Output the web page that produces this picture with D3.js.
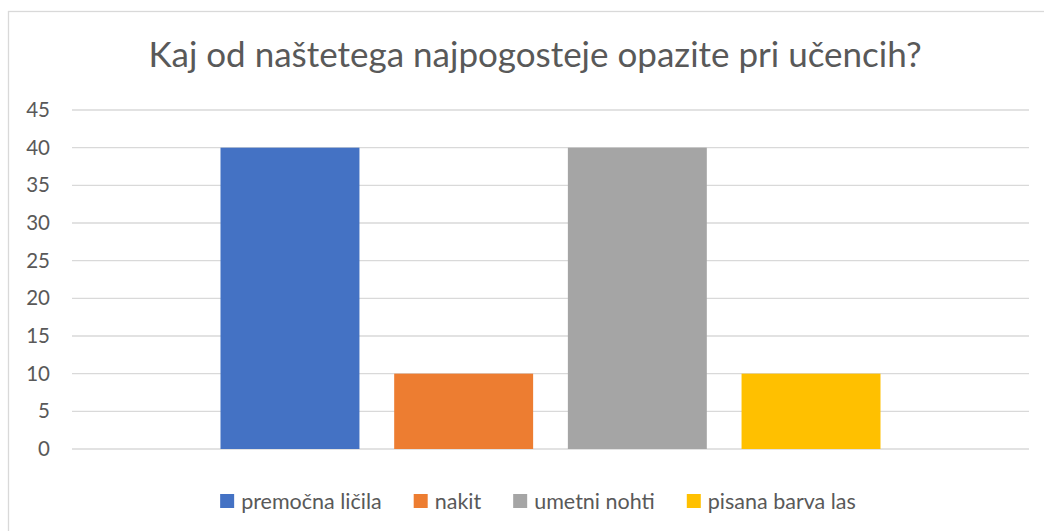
<!DOCTYPE html>
<html>
<head>
<meta charset="utf-8">
<script src="https://cdn.jsdelivr.net/npm/d3@7"></script>
<style>
  body { margin: 0; background: #fff; }
  text { font-family: Lato, "Open Sans", sans-serif; fill: #595959; }
</style>
</head>
<body>
<svg class="chart"></svg>
<script>
const title = 'Kaj od naštetega najpogosteje opazite pri učencih?';
const category = '';
const seriesNames = ['premočna ličila', 'nakit', 'umetni nohti', 'pisana barva las'];
const seriesValues = [40, 10, 40, 10];
const seriesColors = ['#4472C4', '#ED7D31', '#A5A5A5', '#FFC000'];
const yTicks = [0, 5, 10, 15, 20, 25, 30, 35, 40, 45];

const width = 1044, height = 531;
const plot = {left: 72, right: 1029, top: 110, bottom: 449};

const svg = d3.select('.chart')
  .attr('width', width)
  .attr('height', height);

// chart frame
svg.append('rect')
  .attr('x', 8.5).attr('y', 11.5)
  .attr('width', 1100).attr('height', 600)
  .attr('fill', 'none')
  .attr('stroke', '#D9D9D9')
  .attr('stroke-width', 1.3);

const yScale = d3.scaleLinear()
  .domain([0, 45])
  .range([plot.bottom, plot.top]);

const x0 = d3.scaleBand()
  .domain([category])
  .range([plot.left, plot.right])
  .paddingInner(0)
  .paddingOuter(0.225);

const x1 = d3.scaleBand()
  .domain(seriesNames)
  .range([0, x0.bandwidth()])
  .paddingInner(0.2)
  .paddingOuter(0);

// gridlines
svg.append('g')
  .selectAll('line')
  .data(yTicks)
  .enter().append('line')
  .attr('x1', plot.left)
  .attr('x2', plot.right)
  .attr('y1', d => yScale(d))
  .attr('y2', d => yScale(d))
  .attr('stroke', '#D9D9D9')
  .attr('stroke-width', 1.3);

// y axis labels
const yAxis = svg.append('g')
  .attr('transform', 'translate(' + (plot.left - 1) + ',0)')
  .call(d3.axisLeft(yScale).tickValues(yTicks).tickSize(0).tickPadding(21));
yAxis.select('.domain').remove();
yAxis.selectAll('text')
  .style('font-size', '20.5px')
  .style('font-family', 'Lato, "Open Sans", sans-serif')
  .attr('fill', '#595959');

// bars
svg.append('g')
  .attr('transform', 'translate(' + x0(category) + ',0)')
  .selectAll('rect')
  .data(seriesNames)
  .enter().append('rect')
  .attr('x', d => x1(d))
  .attr('width', x1.bandwidth())
  .attr('y', (d, i) => yScale(seriesValues[i]))
  .attr('height', (d, i) => yScale(0) - yScale(seriesValues[i]))
  .attr('fill', (d, i) => seriesColors[i]);

// title
svg.append('text')
  .attr('x', 535)
  .attr('y', 67)
  .style('text-anchor', 'middle')
  .style('font-size', '35px')
  .text(title);

// legend
const legend = svg.append('g');
const items = legend.selectAll('g')
  .data(seriesNames)
  .enter().append('g');
items.append('rect')
  .attr('width', 14).attr('height', 14)
  .attr('y', -14)
  .attr('fill', (d, i) => seriesColors[i]);
items.append('text')
  .attr('x', 21)
  .attr('y', 1)
  .style('font-size', '21.5px')
  .text(d => d);

let offset = 0;
items.each(function() {
  const w = 21 + this.querySelector('text').getComputedTextLength();
  d3.select(this).attr('transform', 'translate(' + offset + ',0)');
  offset += w + 32;
});
offset -= 32;
legend.attr('transform', 'translate(' + (538 - offset / 2) + ',508)');
</script>
</body>
</html>
